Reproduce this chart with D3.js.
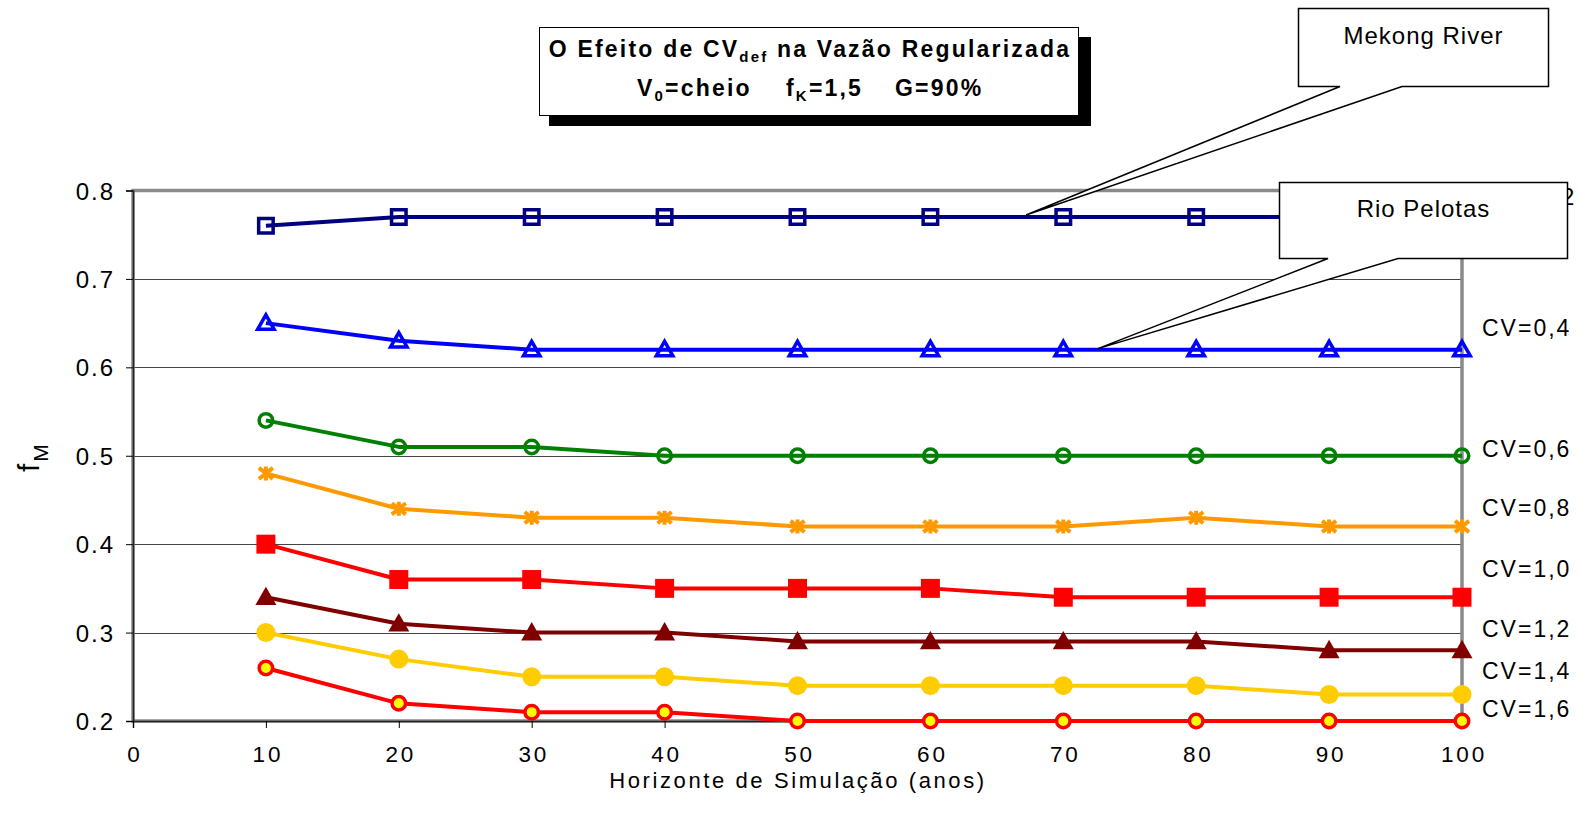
<!DOCTYPE html>
<html><head><meta charset="utf-8">
<script src="https://cdn.jsdelivr.net/npm/d3@7"></script>
<style>
body{margin:0;background:#fff}
svg{display:block}
text{font-family:"Liberation Sans",Arial,sans-serif;fill:#000}
</style></head>
<body><svg id="chart" width="1579" height="819"></svg>
<script>
// ---- data ----
const years = [10,20,30,40,50,60,70,80,90,100];
const cv02 = [0.76,0.77,0.77,0.77,0.77,0.77,0.77,0.77,0.77,0.77];
const cv04 = [0.65,0.63,0.62,0.62,0.62,0.62,0.62,0.62,0.62,0.62];
const cv06 = [0.54,0.51,0.51,0.50,0.50,0.50,0.50,0.50,0.50,0.50];
const cv08 = [0.48,0.44,0.43,0.43,0.42,0.42,0.42,0.43,0.42,0.42];
const cv10 = [0.40,0.36,0.36,0.35,0.35,0.35,0.34,0.34,0.34,0.34];
const cv12 = [0.34,0.31,0.30,0.30,0.29,0.29,0.29,0.29,0.28,0.28];
const cv14 = [0.30,0.27,0.25,0.25,0.24,0.24,0.24,0.24,0.23,0.23];
const cv16 = [0.26,0.22,0.21,0.21,0.20,0.20,0.20,0.20,0.20,0.20];
const seriesNames = ["CV=0,2","CV=0,4","CV=0,6","CV=0,8","CV=1,0","CV=1,2","CV=1,4","CV=1,6"];
const xTicks = [0,10,20,30,40,50,60,70,80,90,100];
const yTicks = [0.2,0.3,0.4,0.5,0.6,0.7,0.8];
const callouts = ["Mekong River","Rio Pelotas"];

// ---- styles / layout ----
const seriesData = [cv02,cv04,cv06,cv08,cv10,cv12,cv14,cv16];
const styles = [
  {color:"#000080", marker:"square", fill:"none", size:18},
  {color:"#0000FF", marker:"triangle", fill:"none", size:20},
  {color:"#008000", marker:"circle", fill:"none", size:17},
  {color:"#FF9900", marker:"asterisk", fill:"none", size:18},
  {color:"#FF0000", marker:"square", fill:"#FF0000", size:19},
  {color:"#800000", marker:"triangle", fill:"#800000", size:21},
  {color:"#FFCC00", marker:"circle", fill:"#FFCC00", size:19},
  {color:"#FF0000", marker:"circle", fill:"#FFFF00", size:17}
];
const labelBaselines = [205,336,457,516,577,637,679,717];
const labelX = [1487,1482,1482,1482,1482,1482,1482,1482];

const svg = d3.select("#chart");
const x = d3.scaleLinear().domain([0,100]).range([133,1462]);
const y = d3.scaleLinear().domain([0.2,0.8]).range([721,190.5]);

// gridlines
svg.append("g").selectAll("line").data(yTicks.filter(v=>v>0.2 && v<0.8)).join("line")
  .attr("x1",x(0)).attr("x2",x(100)).attr("y1",d=>Math.round(y(d))+0.5).attr("y2",d=>Math.round(y(d))+0.5)
  .attr("stroke","#444").attr("stroke-width",1.2);

// plot frame (gray)
svg.append("rect").attr("x",x(0)).attr("y",y(0.8)).attr("width",x(100)-x(0)).attr("height",y(0.2)-y(0.8))
  .attr("fill","none").attr("stroke","#8a8a8a").attr("stroke-width",3.5);

// axes
const yAxis = d3.axisLeft(y).tickValues(yTicks).tickSize(7).tickFormat(d3.format(".1f"));
const gy = svg.append("g").attr("transform",`translate(${x(0)},0)`).call(yAxis);
gy.select(".domain").attr("stroke","#222").attr("stroke-width",1.5);
gy.selectAll(".tick line").attr("stroke","#000");
gy.selectAll(".tick text").attr("font-size",24).attr("x",-18).attr("dy","0.36em").attr("letter-spacing",2)
  .attr("font-family","Liberation Sans, Arial, sans-serif").attr("fill","#000");

const xAxis = d3.axisBottom(x).tickValues(xTicks).tickSize(7).tickFormat(d3.format("d"));
const gx = svg.append("g").attr("transform",`translate(0,${y(0.2)})`).call(xAxis);
gx.select(".domain").attr("stroke","#222").attr("stroke-width",1.5);
gx.selectAll(".tick line").attr("stroke","#000");
gx.selectAll(".tick text").attr("font-size",22.5).attr("y",41).attr("x",1.5).attr("dy",0)
  .attr("font-family","Liberation Sans, Arial, sans-serif").attr("fill","#000").attr("letter-spacing",2.8);

// axis titles
svg.append("text").attr("x",798).attr("y",788).attr("text-anchor","middle")
  .attr("font-size",22).attr("letter-spacing",2.6).text("Horizonte de Simulação (anos)");
const yl = svg.append("text").attr("transform","translate(39,472) rotate(-90)").attr("font-size",30);
yl.append("tspan").text("f");
yl.append("tspan").attr("font-size",21).attr("dy",9).attr("dx",2).text("M");

// series
const line = d3.line().x((d,i)=>x(years[i])).y(d=>y(d));
seriesData.forEach((vals,si)=>{
  const st = styles[si];
  svg.append("path").datum(vals).attr("d",line).attr("fill","none")
    .attr("stroke",st.color).attr("stroke-width",4).attr("stroke-linejoin","round");
});
function markerPath(type, s){
  const h = s/2;
  if(type==="square") return `M${-h},${-h}H${h}V${h}H${-h}Z`;
  if(type==="triangle") return `M0,${-h}L${h},${h*0.75}L${-h},${h*0.75}Z`;
  if(type==="asterisk") return `M${-h},${-h*0.8}L${h},${h*0.8}M${-h},${h*0.8}L${h},${-h*0.8}M0,${-h}V${h}`;
  return null;
}
seriesData.forEach((vals,si)=>{
  const st = styles[si];
  const g = svg.append("g");
  vals.forEach((v,i)=>{
    const cx = x(years[i]), cy = y(v);
    if(st.marker==="circle"){
      const sw = (si===6)?0:3.5;
      g.append("circle").attr("cx",cx).attr("cy",cy).attr("r",(st.size-sw)/2)
        .attr("fill",st.fill).attr("stroke",st.color).attr("stroke-width",sw);
    } else {
      const filled = st.fill!=="none";
      const sw = st.marker==="asterisk"?4:(filled?0:3.5);
      const s = filled? st.size : st.size - sw;
      g.append("path").attr("transform",`translate(${cx},${cy})`).attr("d",markerPath(st.marker,s))
        .attr("fill",st.fill).attr("stroke",st.color).attr("stroke-width",sw).attr("stroke-linejoin","miter");
    }
  });
});

// series labels
svg.append("g").selectAll("text").data(seriesNames).join("text")
  .attr("x",(d,i)=>labelX[i]).attr("y",(d,i)=>labelBaselines[i]).attr("font-size",23).attr("letter-spacing",2)
  .text(d=>d);

// title box
svg.append("rect").attr("x",549).attr("y",37).attr("width",542).attr("height",89).attr("fill","#000");
svg.append("rect").attr("x",539.5).attr("y",27.5).attr("width",539).attr("height",88).attr("fill","#fff")
  .attr("stroke","#000").attr("stroke-width",1);
const tfs = 23, tls = 2.2;
const t1 = svg.append("text").attr("x",810).attr("y",57).attr("text-anchor","middle")
  .attr("font-size",tfs).attr("font-weight","bold").attr("letter-spacing",tls);
t1.append("tspan").text("O Efeito de CV");
t1.append("tspan").attr("font-size",15).attr("dy",5).text("def");
t1.append("tspan").attr("dy",-5).text(" na Vazão Regularizada");
const t2a = svg.append("text").attr("x",637).attr("y",96).attr("font-size",tfs).attr("font-weight","bold").attr("letter-spacing",tls);
t2a.append("tspan").text("V");
t2a.append("tspan").attr("font-size",15).attr("dy",5).text("0");
t2a.append("tspan").attr("dy",-5).text("=cheio");
const t2b = svg.append("text").attr("x",786).attr("y",96).attr("font-size",tfs).attr("font-weight","bold").attr("letter-spacing",tls);
t2b.append("tspan").text("f");
t2b.append("tspan").attr("font-size",15).attr("dy",5).text("K");
t2b.append("tspan").attr("dy",-5).text("=1,5");
svg.append("text").attr("x",895).attr("y",96).attr("font-size",tfs).attr("font-weight","bold").attr("letter-spacing",tls)
  .text("G=90%");

// callouts
function callout(box, base1, base2, tip, label, ty){
  const [x0,y0,x1,y1] = box;
  const p = `M${x0},${y0}H${x1}V${y1}H${base2}L${tip[0]},${tip[1]}L${base1},${y1}H${x0}Z`;
  svg.append("path").attr("d",p).attr("fill","#fff").attr("stroke","#000").attr("stroke-width",1.5)
    .attr("stroke-linejoin","miter");
  svg.append("text").attr("x",(x0+x1)/2).attr("y",ty).attr("text-anchor","middle")
    .attr("font-size",24).attr("letter-spacing",1).text(label);
}
callout([1298.5,8.5,1548.5,86.5],1340,1402,[x(67.2),y(0.77)-2],callouts[0],44);
callout([1279.5,182.5,1567.5,258.5],1328,1398,[x(72.6),y(0.62)-1],callouts[1],217);
</script>
</body></html>
